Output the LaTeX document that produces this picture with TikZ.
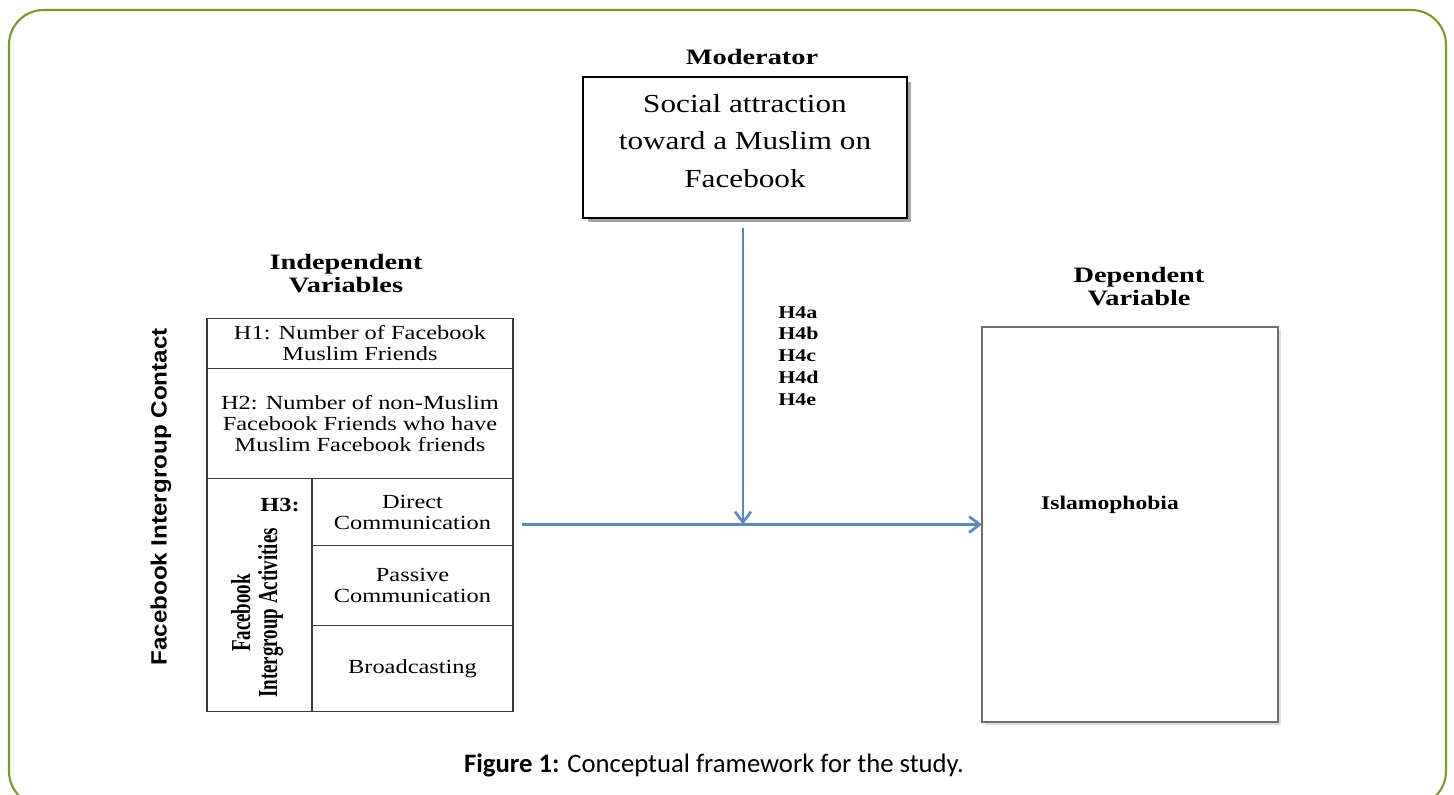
\documentclass[tikz,border=0pt]{standalone}
\usepackage{fontspec}
\usetikzlibrary{arrows.meta}
\setmainfont{Liberation Serif}
\newfontfamily\hserif[FakeStretch=1.29]{Liberation Serif}
\newfontfamily\mserif[FakeStretch=1.2]{Liberation Serif}
\newfontfamily\bserif[FakeStretch=1.22]{Liberation Serif}
\newfontfamily\cserif[FakeStretch=0.69]{Liberation Serif}
\newfontfamily\csans[FakeStretch=0.93]{Liberation Sans}
\newfontfamily\capfont{Carlito}
\definecolor{frame}{RGB}{122,154,48}
\definecolor{arrowblue}{RGB}{91,137,190}
\definecolor{boxline}{RGB}{60,60,60}
\definecolor{depline}{RGB}{110,110,110}
\begin{document}
\begin{tikzpicture}[x=0.75pt,y=-0.75pt,
  cell/.style={draw=boxline,line width=1.1pt,inner sep=0pt,outer sep=0pt,align=center,
    font=\bserif\fontsize{15pt}{15.75pt}\selectfont},
  head/.style={align=center,font=\hserif\bfseries\fontsize{16.5pt}{17.25pt}\selectfont},
  arr/.style={draw=arrowblue,line width=2.2pt,-{Straight Barb[length=8pt,width=12pt,line width=2pt]}},
]
\useasboundingbox (0,0) rectangle (1454,794);
\fill[white] (0,0) rectangle (1454,794);
\begin{scope}
\clip (0,0) rectangle (1454,794);
\draw[frame,line width=1.6pt,rounded corners=26pt] (9,10) rectangle (1446,806);
\end{scope}

% moderator
\node[head] (modlab) at (752,57) {Moderator};
\fill[gray!70] (588,82) rectangle (911,222);
\node[draw=black,fill=white,line width=1pt,inner sep=0pt,outer sep=0pt,
  minimum width={324*0.75pt},minimum height={141*0.75pt}] (mod) at (745,147.5) {};
\node[align=center,inner sep=0pt,font=\mserif\fontsize{19.5pt}{28.1pt}\selectfont] (modtxt) at (745,141)
  {Social attraction\\toward a Muslim on\\Facebook};

% independent variables
\node[head] (indlab) at (346,273.5) {Independent\\Variables};
\node[cell,minimum width={306*0.75pt},minimum height={50*0.75pt}] (h1) at (360,343.5)
  {H1: Number of Facebook\\Muslim Friends};
\node[cell,minimum width={306*0.75pt},minimum height={110*0.75pt}] (h2) at (360,423.5)
  {H2: Number of non-Muslim\\Facebook Friends who have\\Muslim Facebook friends};
\node[cell,minimum width={105*0.75pt},minimum height={233*0.75pt}] (h3) at (259.5,595) {};
\node[cell,minimum width={201*0.75pt},minimum height={67*0.75pt}] (dc) at (412.5,512)
  {Direct\\Communication};
\node[cell,minimum width={201*0.75pt},minimum height={80*0.75pt}] (pc) at (412.5,585.5)
  {Passive\\Communication};
\node[cell,minimum width={201*0.75pt},minimum height={86*0.75pt}] (bc) at (412.5,668.5)
  {Broadcasting};
\node[font=\bserif\bfseries\fontsize{15pt}{15pt}\selectfont] (h3lab) at (280,505) {H3:};
\node[rotate=90,align=center,font=\cserif\bfseries\fontsize{20.6pt}{20.25pt}\selectfont]
  (act) at (257,613) {Facebook\\Intergroup Activities};
\node[rotate=90,font=\csans\bfseries\fontsize{19.5pt}{20pt}\selectfont]
  (contact) at (161,497) {\scalebox{1}[0.85]{Facebook Intergroup Contact}};

% H4 labels
\node[anchor=north west,align=left,inner sep=0pt,
  font=\bserif\bfseries\fontsize{13.5pt}{16.3pt}\selectfont] (h4) at (778,306)
  {H4a\\H4b\\H4c\\H4d\\H4e};

% dependent variable
\node[head] (deplab) at (1139,287) {Dependent\\Variable};
\fill[gray!25] (985,330) rectangle (1281,725);
\node[draw=depline,fill=white,line width=1.5pt,inner sep=0pt,outer sep=0pt,
  minimum width={296*0.75pt},minimum height={395*0.75pt}] (dep) at (1130,524.5) {};
\node[font=\bserif\bfseries\fontsize{14.5pt}{15pt}\selectfont] (isl) at (1110,505) {Islamophobia};

% arrows
\coordinate (vtop) at (743,228);
\coordinate (hstart) at (522,524.5);
\coordinate (meet) at (743,524.5);
\draw[arr] (vtop) -- (meet);
\draw[arr] (hstart) -- (dep.west);

% caption
\node[font=\capfont\fontsize{20pt}{24pt}\selectfont] (cap) at (714,765)
  {\textbf{Figure 1:} Conceptual framework for the study.};
\end{tikzpicture}
\end{document}
